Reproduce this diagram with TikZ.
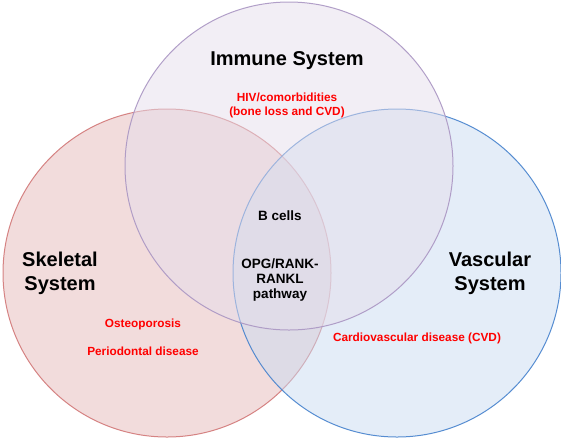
\documentclass[tikz,border=0pt]{standalone}
\usepackage{fontspec}
\setmainfont{Liberation Sans}
\usepackage{xcolor}
\usepackage{tikz}
\usetikzlibrary{positioning}
\definecolor{immfill}{RGB}{229,221,235}
\definecolor{immline}{RGB}{170,150,195}
\definecolor{skelfill}{RGB}{229,185,185}
\definecolor{skelline}{RGB}{210,120,120}
\definecolor{vascfill}{RGB}{201,219,241}
\definecolor{vascline}{RGB}{70,130,205}
\tikzset{
  setc/.style={circle, minimum size=328pt, inner sep=0pt, line width=1pt,
               fill opacity=0.5, draw opacity=0.9},
  ttl/.style={font=\fontsize{20}{24}\selectfont\bfseries, align=center,
              inner sep=0pt},
  dis/.style={font=\fontsize{11.8}{14}\selectfont\bfseries, text=red,
              align=center, inner sep=0pt},
  mid/.style={font=\fontsize{13.5}{14.5}\selectfont\bfseries, align=center,
              inner sep=0pt}
}
\begin{document}
\begin{tikzpicture}[x=1pt, y=-1pt]
  \useasboundingbox (0,0) rectangle (561,440);

  %% -- Set circles --
  \node[setc, fill=skelfill, draw=skelline] (skel) at (167,273) {};
  \node[setc, fill=vascfill, draw=vascline] (vasc) at (397,273) {};
  \node[setc, fill=immfill, draw=immline]   (imm)  at (289,166) {};

  %% -- Immune system --
  \node[ttl] (immt) at (287,61) {Immune System};
  \node[dis, below=22pt of immt] (hiv)
    {HIV/comorbidities\\(bone loss and CVD)};

  %% -- Skeletal system --
  \node[ttl] (skelt) at (60,273) {Skeletal\\System};
  \node[dis] (osteo) at (143,324) {Osteoporosis};
  \node[dis, below=17pt of osteo] (perio) {Periodontal disease};

  %% -- Vascular system --
  \node[ttl] (vasct) at (490,273) {Vascular\\System};
  \node[dis] (cvd) at (417,338) {Cardiovascular disease (CVD)};

  %% -- Shared centre --
  \node[mid] (bcell) at (280,216) {B cells};
  \node[mid] (opg) at (280,280) {OPG/RANK-\\RANKL\\pathway};
\end{tikzpicture}
\end{document}
